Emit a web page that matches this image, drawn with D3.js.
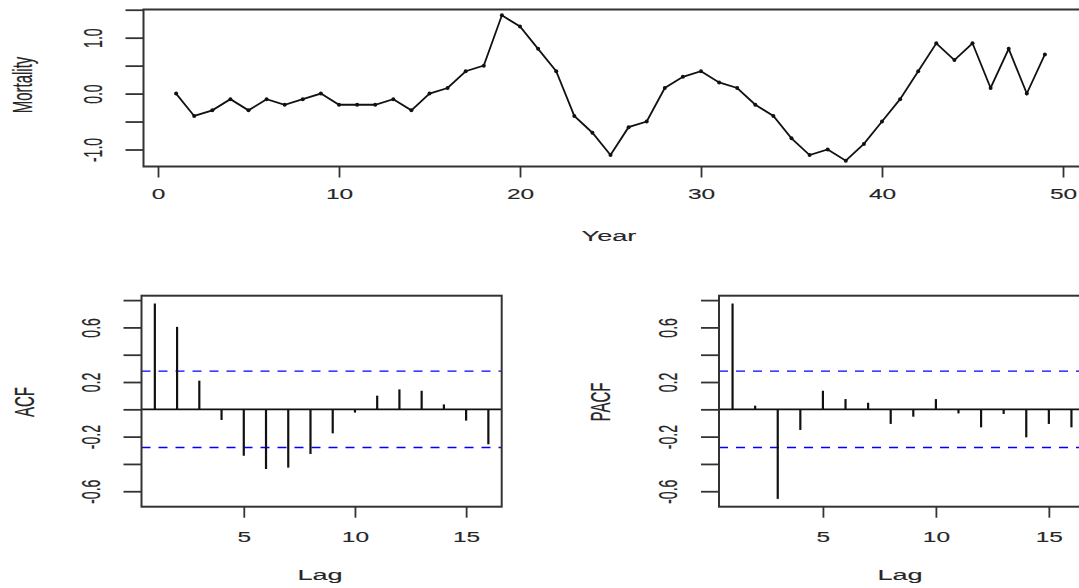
<!DOCTYPE html>
<html>
<head>
<meta charset="utf-8">
<script src="https://cdn.jsdelivr.net/npm/d3@7"></script>
<style>
  html, body { margin: 0; padding: 0; background: #fff; }
  svg { display: block; font-family: "Liberation Sans", Arial, sans-serif; }
  .tick line { stroke: #333; stroke-width: 1.8px; }
  .tick text { fill: #262626; stroke: #262626; stroke-width: 0.12px; }
</style>
</head>
<body>
<svg id="chart" width="1079" height="588"></svg>
<script>
// Annual mortality series and its sample autocorrelations
const mortality = [0.0, -0.4, -0.3, -0.1, -0.3, -0.1, -0.2, -0.1, 0.0, -0.2,
                   -0.2, -0.2, -0.1, -0.3, 0.0, 0.1, 0.4, 0.5, 1.4, 1.2,
                   0.8, 0.4, -0.4, -0.7, -1.1, -0.6, -0.5, 0.1, 0.3, 0.4,
                   0.2, 0.1, -0.2, -0.4, -0.8, -1.1, -1.0, -1.2, -0.9, -0.5,
                   -0.1, 0.4, 0.9, 0.6, 0.9, 0.1, 0.8, 0.0, 0.7];
const acfValues  = [0.775, 0.604, 0.21, -0.078, -0.34, -0.437, -0.427, -0.327,
                    -0.176, -0.024, 0.10, 0.146, 0.136, 0.036, -0.083, -0.256];
const pacfValues = [0.775, 0.027, -0.656, -0.151, 0.136, 0.075, 0.048, -0.107,
                    -0.054, 0.075, -0.03, -0.132, -0.034, -0.205, -0.107, -0.132];
const confLimit = 0.28;           // 1.96 / sqrt(n)
const yearTicks = [0, 10, 20, 30, 40, 50];
const mortTicks = [-1, -0.5, 0, 0.5, 1, 1.5];
const mortLabels = [-1, 0, 1];
const lagTicks = [5, 10, 15];
const corrTicks = [-0.6, -0.4, -0.2, 0, 0.2, 0.4, 0.6, 0.8];
const corrLabels = [-0.6, -0.2, 0.2, 0.6];

const svg = d3.select("#chart");
const TICK_FS = 14, TITLE_FS = 15.5, SX = 1.75, SX_ROT = 1.85;
const INK = "#262626";
const fmt = v => v.toFixed(1);

// R-style 4% padding of a range
function padded(lo, hi) { const p = (hi - lo) * 0.04; return [lo - p, hi + p]; }

function bottomAxis(g, x, y0, ticks, labelY) {
  const ax = g.append("g").attr("transform", `translate(0,${y0})`)
    .call(d3.axisBottom(x).tickValues(ticks).tickSize(11).tickPadding(0).tickFormat(d => d));
  ax.select(".domain").remove();
  ax.selectAll(".tick text")
    .attr("y", labelY).attr("dy", "0.35em")
    .attr("font-size", TICK_FS)
    .attr("transform", `scale(${SX},1)`);
}

function leftAxis(g, y, x0, ticks, labels) {
  const ax = g.append("g").attr("transform", `translate(${x0},0)`)
    .call(d3.axisLeft(y).tickValues(ticks).tickSize(18)
      .tickFormat(d => labels.some(l => Math.abs(l - d) < 1e-9) ? fmt(d) : ""));
  ax.select(".domain").remove();
  ax.selectAll(".tick text")
    .attr("x", 0).attr("y", 0).attr("dy", "0.35em")
    .attr("text-anchor", "middle")
    .attr("font-size", TICK_FS)
    .attr("transform", `translate(-51,0) scale(${SX_ROT},1) rotate(-90)`);
}

function box(g, x0, x1, y0, y1) {
  g.append("rect").attr("x", x0).attr("y", y0)
    .attr("width", x1 - x0).attr("height", y1 - y0)
    .attr("fill", "none").attr("stroke", "#333").attr("stroke-width", 2);
}

function hTitle(text, cx, cy) {
  svg.append("text").text(text)
    .attr("font-size", TITLE_FS).attr("fill", INK)
    .attr("stroke", INK).attr("stroke-width", 0.12)
    .attr("text-anchor", "middle").attr("dy", "0.35em")
    .attr("transform", `translate(${cx},${cy}) scale(${SX},1)`);
}
function vTitle(text, cx, cy) {
  svg.append("text").text(text)
    .attr("font-size", TITLE_FS - 0.5).attr("fill", INK)
    .attr("stroke", INK).attr("stroke-width", 0.12)
    .attr("text-anchor", "middle").attr("dy", "0.35em")
    .attr("transform", `translate(${cx},${cy}) scale(${SX_ROT},1) rotate(-90)`);
}

// ---- Top panel: mortality by year ----
{
  const g = svg.append("g");
  const x = d3.scaleLinear().domain([0, 50]).range([158, 1063]);
  const yDom = padded(d3.min(mortality), d3.max(mortality));
  const y = d3.scaleLinear().domain(yDom).range([166.5, 9.5]);
  const left = 143.5, right = 1083;

  box(g, left, right, y.range()[1], y.range()[0]);
  bottomAxis(g, x, y.range()[0], yearTicks, 28);
  leftAxis(g, y, left, mortTicks, mortLabels);

  const pts = mortality.map((v, i) => [i + 1, v]);
  g.append("path").datum(pts)
    .attr("fill", "none").attr("stroke", "#111").attr("stroke-width", 1.8)
    .attr("d", d3.line().x(d => x(d[0])).y(d => y(d[1])));
  g.selectAll("circle.pt").data(pts).join("circle").attr("class", "pt")
    .attr("cx", d => x(d[0])).attr("cy", d => y(d[1])).attr("r", 2)
    .attr("fill", "#111");

  hTitle("Year", 609, 236);
  vTitle("Mortality", 22, 85);
}

// ---- Bottom panels: ACF and PACF ----
const corrDom = padded(
  Math.min(d3.min(acfValues), d3.min(pacfValues), -confLimit),
  Math.max(d3.max(acfValues), d3.max(pacfValues), confLimit));

function corrPanel(values, xRange, title, titleX, lagTitleX) {
  const g = svg.append("g");
  const x = d3.scaleLinear().domain([0.4, 16.6]).range(xRange);
  const y = d3.scaleLinear().domain(corrDom).range([506.7, 295.7]);
  const [left, right] = xRange;

  // zero line
  g.append("line").attr("x1", left).attr("x2", right)
    .attr("y1", y(0)).attr("y2", y(0))
    .attr("stroke", "#111").attr("stroke-width", 1.8);
  // confidence bounds
  [confLimit, -confLimit].forEach(c => {
    g.append("line").attr("x1", left).attr("x2", right)
      .attr("y1", y(c)).attr("y2", y(c))
      .attr("stroke", "#0000ff").attr("stroke-width", 1.4)
      .attr("stroke-dasharray", "9,8");
  });
  // spikes
  g.selectAll("line.spike").data(values).join("line").attr("class", "spike")
    .attr("x1", (d, i) => x(i + 1)).attr("x2", (d, i) => x(i + 1))
    .attr("y1", y(0)).attr("y2", d => y(d))
    .attr("stroke", "#111").attr("stroke-width", 2.2);

  box(g, left, right, 295.7, 506.7);
  bottomAxis(g, x, 506.7, lagTicks, 30);
  leftAxis(g, y, left, corrTicks, corrLabels);

  hTitle("Lag", lagTitleX, 575);
  vTitle(title, titleX, 402);
}

corrPanel(acfValues, [141.5, 501.7], "ACF", 24, 320);
corrPanel(pacfValues, [719, 1085], "PACF", 600, 900);
</script>
</body>
</html>
